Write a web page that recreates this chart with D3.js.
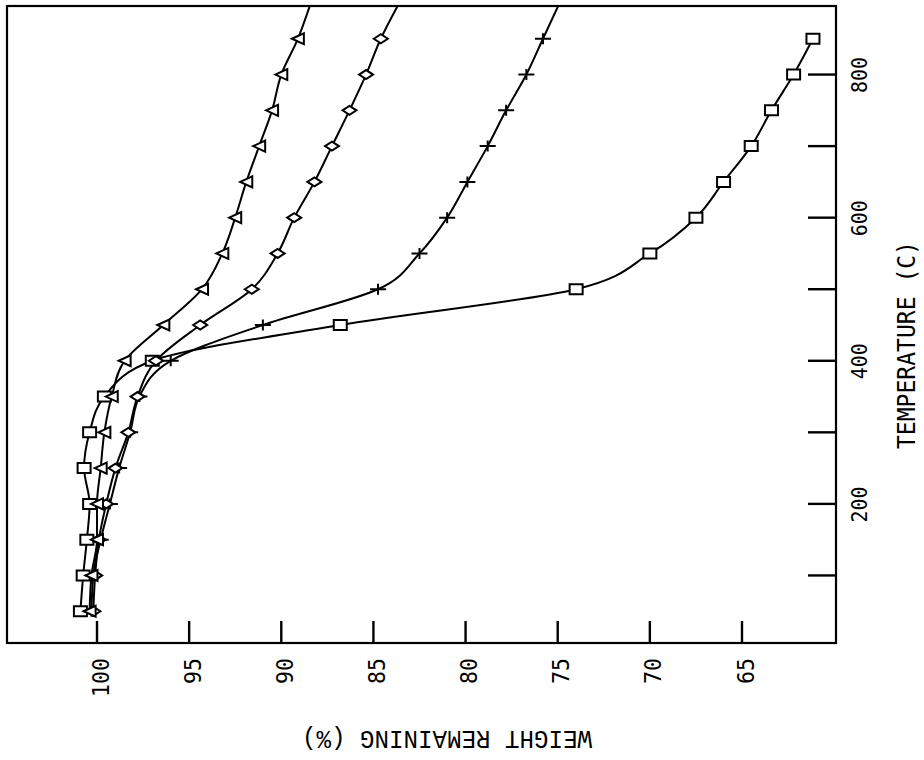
<!DOCTYPE html>
<html>
<head>
<meta charset="utf-8">
<script src="https://cdn.jsdelivr.net/npm/d3@7"></script>
<style>
body{margin:0;background:#fff;}
text{fill:#000;}
</style>
</head>
<body>
<div id="chart"></div>
<script>
// marker temperatures (C)
var temps=[50,100,150,200,250,300,350,400,450,500,550,600,650,700,750,800,850];
// weight remaining (%) at each marker
var squareW  =[100.9,100.75,100.55,100.4,100.7,100.4,99.6,97.0,86.8,74.0,70.0,67.5,66.0,64.5,63.4,62.2,61.15];
var plusW    =[100.3,100.2,99.8,99.3,98.8,98.2,97.7,96.0,91.0,84.75,82.5,81.0,79.9,78.8,77.8,76.7,75.8];
var diamondW =[100.2,100.1,99.9,99.5,99.0,98.3,97.8,96.8,94.4,91.6,90.2,89.3,88.2,87.25,86.3,85.4,84.6];
var triangleW=[100.4,100.3,100.0,100.0,99.8,99.6,99.2,98.5,96.4,94.3,93.2,92.5,91.9,91.2,90.5,90.0,89.1];
// curves run on past the last marker up to 900 C (square stops at 850)
var endT=900;
var endW={square:null,plus:74.9,diamond:83.6,triangle:88.4};

var weightTicks=[100,95,90,85,80,75,70,65];
var tempTicks=[100,200,300,400,500,600,700,800];
var tempLabels=[200,400,600,800];

var width=924, height=760;
var frameL=7, frameR=836, frameT=6, frameB=643;

var svg=d3.select("#chart").append("svg")
	.attr("width",width)
	.attr("height",height);

// rotated plot: weight runs left->right, temperature bottom->top
var x=d3.scaleLinear().domain([100,65]).range([97,742]);
var y=d3.scaleLinear().domain([0,900]).range([647,3]);

svg.append("clipPath").attr("id","frameclip")
	.append("rect")
	.attr("x",frameL).attr("y",frameT)
	.attr("width",frameR-frameL).attr("height",frameB-frameT);

// weight ticks, pointing up into the plot
svg.append("g").selectAll("line")
	.data(weightTicks)
	.enter().append("line")
	.attr("x1",function(d){return x(d);}).attr("x2",function(d){return x(d);})
	.attr("y1",frameB).attr("y2",frameB-22)
	.attr("stroke","#000").attr("stroke-width",2.4);

var xaxis=svg.append("g")
	.attr("transform","translate(0,"+frameB+")")
	.call(d3.axisBottom(x).tickValues(weightTicks).tickSize(0));
xaxis.select(".domain").remove();
xaxis.selectAll("text")
	.attr("x",null).attr("y",null).attr("dy",null)
	.attr("transform","translate(11,15) rotate(-90)")
	.attr("text-anchor","end")
	.style("font-family","'DejaVu Sans Mono',monospace")
	.style("font-size","23px")
	.attr("textLength",function(d){return String(d).length*13;})
	.attr("lengthAdjust","spacingAndGlyphs");

// temperature ticks, pointing left into the plot
svg.append("g").selectAll("line")
	.data(tempTicks)
	.enter().append("line")
	.attr("x1",frameR).attr("x2",frameR-28)
	.attr("y1",function(d){return y(d);}).attr("y2",function(d){return y(d);})
	.attr("stroke","#000").attr("stroke-width",2.4);

var yaxis=svg.append("g")
	.attr("transform","translate("+frameR+",0)")
	.call(d3.axisRight(y).tickValues(tempTicks).tickSize(0)
		.tickFormat(function(d){return tempLabels.indexOf(d)>=0?String(d):"";}));
yaxis.select(".domain").remove();
yaxis.selectAll("text")
	.attr("x",null).attr("y",null).attr("dy",null)
	.attr("transform","translate(31,0) rotate(-90)")
	.attr("text-anchor","middle")
	.style("font-family","'DejaVu Sans Mono',monospace")
	.style("font-size","21px")
	.attr("textLength",function(d){return tempLabels.indexOf(d)>=0?36:null;})
	.attr("lengthAdjust","spacingAndGlyphs");

// frame
svg.append("rect")
	.attr("x",frameL).attr("y",frameT)
	.attr("width",frameR-frameL).attr("height",frameB-frameT)
	.attr("fill","none").attr("stroke","#000").attr("stroke-width",2.2);

// axis titles
svg.append("text")
	.attr("transform","translate(915,345) rotate(-90)")
	.attr("text-anchor","middle")
	.style("font-family","'DejaVu Sans Mono',monospace")
	.style("font-size","24px")
	.attr("textLength",208).attr("lengthAdjust","spacingAndGlyphs")
	.text("TEMPERATURE (C)");

svg.append("text")
	.attr("transform","translate(447,731) rotate(180)")
	.attr("text-anchor","middle")
	.style("font-family","'Liberation Mono',monospace")
	.style("font-size","25px")
	.attr("textLength",290).attr("lengthAdjust","spacingAndGlyphs")
	.text("WEIGHT REMAINING (%)");

// series
var series=[
	{name:"square",w:squareW},
	{name:"plus",w:plusW},
	{name:"diamond",w:diamondW},
	{name:"triangle",w:triangleW}
];

var line=d3.line()
	.curve(d3.curveMonotoneY)
	.x(function(d){return x(d.w);})
	.y(function(d){return y(d.t);});

var plot=svg.append("g").attr("clip-path","url(#frameclip)");

series.forEach(function(s){
	var pts=temps.map(function(t,i){return {t:t,w:s.w[i]};});
	var linepts=pts.slice();
	if(endW[s.name]!=null){linepts.push({t:endT,w:endW[s.name]});}
	plot.append("path")
		.datum(linepts)
		.attr("d",line)
		.attr("fill","none")
		.attr("stroke","#000")
		.attr("stroke-width",2)
		.attr("stroke-linejoin","round");
	s.pts=pts;
});

function markerPath(name){
	if(name=="square"){return "M-6.5,-5H6.5V5H-6.5Z";}
	if(name=="plus"){return "M-8,0H8M0,-5.5V5.5";}
	if(name=="diamond"){return "M-7,0L0,-4.5L7,0L0,4.5Z";}
	return "M-6,0L6,-5.5V5.5Z"; // triangle, apex to the left
}

series.forEach(function(s){
	plot.append("g").selectAll("path")
		.data(s.pts)
		.enter().append("path")
		.attr("transform",function(d){return "translate("+x(d.w)+","+y(d.t)+")";})
		.attr("d",markerPath(s.name))
		.attr("fill",s.name=="plus"?"none":"#fff")
		.attr("stroke","#000")
		.attr("stroke-width",2);
});
</script>
</body>
</html>
